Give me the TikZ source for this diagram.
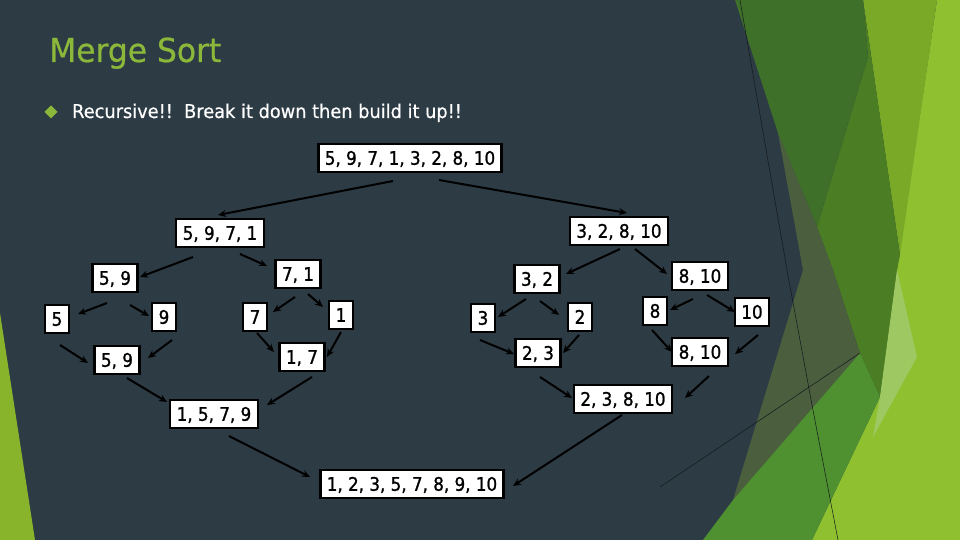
\documentclass[tikz,border=0pt]{standalone}
\usepackage{fontspec}
\usetikzlibrary{arrows.meta}
\newfontfamily\boxfont{DejaVu Sans}[FakeStretch=0.9,FakeBold=1.2]
\newfontfamily\titlefont{DejaVu Sans}[FakeStretch=0.95,FakeBold=0.6]
\newfontfamily\bodyfont{DejaVu Sans}[FakeStretch=0.935,FakeBold=0.5]
\definecolor{slate}{HTML}{2D3B44}
\definecolor{titlegreen}{HTML}{8BB83B}
\definecolor{limeg}{HTML}{8EC030}
\definecolor{oliveg}{HTML}{7AA928}
\definecolor{midg}{HTML}{4A7D24}
\definecolor{darkg}{HTML}{3F7029}
\definecolor{greyg}{HTML}{4B5F3E}
\definecolor{botg}{HTML}{4F9030}
\definecolor{paleg}{HTML}{9DC862}
\definecolor{leftg}{HTML}{88B42B}
\tikzset{
  box/.style={draw=black, line width=2.5pt, fill=white, inner xsep=6.5pt, inner ysep=0pt,
    minimum height=28pt, text height=13.5pt, text depth=0pt, font=\boxfont\fontsize{18.6}{21}\selectfont},
  conn/.style={draw=black, line width=2pt, -{Stealth[length=8pt,width=7pt]}},
  thinline/.style={draw=black!60!slate, line width=0.5pt}
}
\begin{document}
\begin{tikzpicture}[x=1pt,y=-1pt]
\useasboundingbox (0,0) rectangle (960,540);
\fill[slate] (0,0) rectangle (960,540);
% decoration left
\fill[leftg] (0,313) -- (35,540) -- (0,540) -- cycle;
% decoration right
\fill[limeg] (937,0) -- (960,0) -- (960,540) -- (812,540) -- (880,397) -- (897,270) -- cycle;
\fill[oliveg] (863,0) -- (937,0) -- (900,255) -- cycle;
\fill[midg] (863,0) -- (900,255) -- (897,270) -- (880,397) -- (860,353) -- (833,270) -- (817,227) -- (868,57) -- cycle;
\fill[darkg] (735,0) -- (863,0) -- (868,57) -- (817,227) -- (778,133) -- cycle;
\fill[greyg] (778,133) -- (817,227) -- (833,270) -- (860,353) -- (733,500) -- (803,270) -- cycle;
\fill[botg] (733,500) -- (860,353) -- (880,397) -- (812,540) -- (703,540) -- cycle;
\fill[paleg] (897,270) -- (917,357) -- (873,437) -- (880,397) -- cycle;
\draw[thinline] (740,0) -- (787,270) -- (812,405) -- (838,540);
\draw[thinline] (660,487) -- (860,353);
% title and bullet
\node[anchor=base west, inner sep=0, text=titlegreen, font=\titlefont\fontsize{33}{38}\selectfont] (title) at (49,62) {Merge Sort};
\fill[titlegreen] (51,105.5) -- (57.5,112) -- (51,118.5) -- (44.5,112) -- cycle;
\node[anchor=base west, inner sep=0, text=white, font=\bodyfont\fontsize{19}{22}\selectfont] (bullet) at (72,118) {Recursive!!\ \ Break it down then build it up!!};
% nodes
\node[box] (top) at (410,158) {5, 9, 7, 1, 3, 2, 8, 10};
\node[box] (L) at (220,233) {5, 9, 7, 1};
\node[box] (R) at (619,231) {3, 2, 8, 10};
\node[box] (n59a) at (115,278) {5, 9};
\node[box] (n71) at (298,274) {7, 1};
\node[box] (n5) at (57,319) {5};
\node[box] (n9) at (164,317) {9};
\node[box] (n7) at (255,317) {7};
\node[box] (n1) at (341,315) {1};
\node[box] (n59b) at (117,360) {5, 9};
\node[box] (n17) at (302,357) {1, 7};
\node[box] (n1579) at (214,414) {1, 5, 7, 9};
\node[box] (final) at (412,484) {1, 2, 3, 5, 7, 8, 9, 10};
\node[box] (n32) at (537,279) {3, 2};
\node[box] (n810a) at (700,276) {8, 10};
\node[box] (n3) at (483,318) {3};
\node[box] (n2) at (580,317) {2};
\node[box] (n8) at (655,311) {8};
\node[box] (n10) at (752,312) {10};
\node[box] (n23) at (538,353) {2, 3};
\node[box] (n810b) at (700,352) {8, 10};
\node[box] (n23810) at (623,399) {2, 3, 8, 10};
% connectors
\draw[conn] ([shift={(-17,23)}]top.center) -- ([shift={(-2,-18)}]L.center);
\draw[conn] ([shift={(29,22)}]top.center) -- ([shift={(8,-18)}]R.center);
\draw[conn] ([shift={(-27,24)}]L.center) -- ([shift={(25,-1)}]n59a.center);
\draw[conn] ([shift={(20,21)}]L.center) -- ([shift={(-31,-8)}]n71.center);
\draw[conn] ([shift={(-8,25)}]n59a.center) -- ([shift={(21,-5)}]n5.center);
\draw[conn] ([shift={(15,27)}]n59a.center) -- ([shift={(-15,-1)}]n9.center);
\draw[conn] ([shift={(-3,23)}]n71.center) -- ([shift={(18,-5)}]n7.center);
\draw[conn] ([shift={(10,20)}]n71.center) -- ([shift={(-18,-8)}]n1.center);
\draw[conn] ([shift={(3,26)}]n5.center) -- ([shift={(-29,3)}]n59b.center);
\draw[conn] ([shift={(8,23)}]n9.center) -- ([shift={(31,-2)}]n59b.center);
\draw[conn] ([shift={(2,16)}]n7.center) -- ([shift={(-28,-5)}]n17.center);
\draw[conn] ([shift={(0,17)}]n1.center) -- ([shift={(25,0)}]n17.center);
\draw[conn] ([shift={(10,18)}]n59b.center) -- ([shift={(-47,-12)}]n1579.center);
\draw[conn] ([shift={(10,20)}]n17.center) -- ([shift={(53,-9)}]n1579.center);
\draw[conn] ([shift={(15,22)}]n1579.center) -- ([shift={(-102,-7)}]final.center);
\draw[conn] ([shift={(-1,16)}]n23810.center) -- ([shift={(101,2)}]final.center);
\draw[conn] ([shift={(1,18)}]R.center) -- ([shift={(29,-5)}]n32.center);
\draw[conn] ([shift={(16,18)}]R.center) -- ([shift={(-33,-2)}]n810a.center);
\draw[conn] ([shift={(-11,20)}]n32.center) -- ([shift={(15,-1)}]n3.center);
\draw[conn] ([shift={(3,22)}]n32.center) -- ([shift={(-21,-2)}]n2.center);
\draw[conn] ([shift={(-7,23)}]n810a.center) -- ([shift={(15,-1)}]n8.center);
\draw[conn] ([shift={(7,19)}]n810a.center) -- ([shift={(-17,0)}]n10.center);
\draw[conn] ([shift={(-3,22)}]n3.center) -- ([shift={(-24,1)}]n23.center);
\draw[conn] ([shift={(-1,18)}]n2.center) -- ([shift={(25,0)}]n23.center);
\draw[conn] ([shift={(-3,19)}]n8.center) -- ([shift={(-28,0)}]n810b.center);
\draw[conn] ([shift={(6,23)}]n10.center) -- ([shift={(35,2)}]n810b.center);
\draw[conn] ([shift={(2,24)}]n23.center) -- ([shift={(-51,-1)}]n23810.center);
\draw[conn] ([shift={(9,24)}]n810b.center) -- ([shift={(62,-1)}]n23810.center);
\end{tikzpicture}
\end{document}
